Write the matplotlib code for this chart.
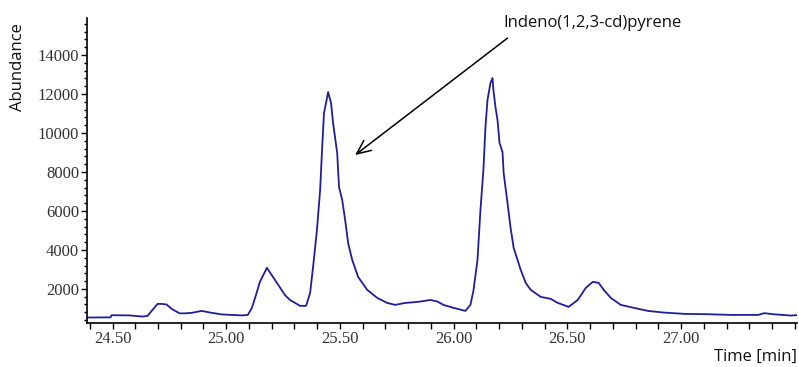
import matplotlib
matplotlib.use('Agg')
import matplotlib.pyplot as plt
from matplotlib.ticker import MultipleLocator, FixedLocator, FormatStrFormatter

# chromatogram trace
time_min = [24.385, 24.491, 24.496, 24.575, 24.632, 24.654, 24.698, 24.716, 24.738, 24.760,
            24.795, 24.817, 24.848, 24.892, 24.937, 24.981, 25.025, 25.069, 25.095, 25.113,
            25.135, 25.148, 25.179, 25.223, 25.258, 25.280, 25.325, 25.351, 25.369, 25.382,
            25.399, 25.413, 25.422, 25.430, 25.444, 25.448, 25.461, 25.470, 25.488, 25.496,
            25.510, 25.523, 25.536, 25.554, 25.580, 25.620, 25.664, 25.708, 25.743, 25.787,
            25.810, 25.854, 25.898, 25.929, 25.955, 26.000, 26.052, 26.074, 26.087, 26.105,
            26.118, 26.131, 26.140, 26.149, 26.162, 26.171, 26.175, 26.184, 26.193, 26.202,
            26.215, 26.220, 26.237, 26.250, 26.264, 26.281, 26.295, 26.317, 26.339, 26.383,
            26.427, 26.458, 26.506, 26.546, 26.581, 26.612, 26.638, 26.660, 26.691, 26.735,
            26.793, 26.855, 26.925, 27.013, 27.119, 27.220, 27.340, 27.366, 27.406, 27.485,
            27.516]
abundance = [530, 540, 650, 640, 580, 615, 1230, 1230, 1200, 975,
             745, 745, 770, 870, 770, 690, 665, 640, 665, 1025,
             1845, 2360, 3080, 2310, 1690, 1435, 1130, 1130, 1795, 3130,
             5025, 7075, 9280, 11025, 11845, 12100, 11540, 10510, 8975, 7230,
             6565, 5540, 4360, 3490, 2615, 1950, 1540, 1280, 1180, 1280,
             1300, 1350, 1435, 1350, 1180, 1025, 870, 1180, 1900, 3490,
             6050, 8100, 10310, 11690, 12565, 12820, 12200, 11335, 10665, 9485,
             9025, 7950, 6410, 5180, 4100, 3490, 2975, 2310, 1950, 1590,
             1490, 1280, 1077, 1435, 2050, 2360, 2310, 1950, 1540, 1180,
             1025, 870, 785, 720, 700, 665, 665, 755, 700, 630,
             665]

x_labelled = [24.5, 25.0, 25.5, 26.0, 26.5, 27.0]

label_text = 'Indeno(1,2,3-cd)pyrene'
arrow_tip = (25.567, 8870)
arrow_tail = (26.237, 14870)
label_pos = (26.220, 15640)

SANS = ['Open Sans', 'DejaVu Sans']
SERIF = ['Liberation Serif', 'DejaVu Serif']

fig = plt.figure(figsize=(7.99, 3.67), dpi=100)
ax = fig.add_axes([0.1095, 0.1199, 0.888, 0.831])

ax.plot(time_min, abundance, color='#1f1f99', linewidth=1.3)

ax.set_xlim(24.39, 27.51)
ax.set_ylim(250, 15900)

for side in ('top', 'right'):
    ax.spines[side].set_visible(False)
for side in ('left', 'bottom'):
    ax.spines[side].set_linewidth(1.2)

ax.xaxis.set_major_locator(FixedLocator(x_labelled))
ax.xaxis.set_minor_locator(MultipleLocator(0.1))
ax.xaxis.set_major_formatter(FormatStrFormatter('%.2f'))
ax.yaxis.set_major_locator(MultipleLocator(2000))
ax.yaxis.set_minor_locator(MultipleLocator(400))

ax.tick_params(axis='x', which='both', length=4, width=1, pad=2, labelsize=12, labelcolor='#333333')
ax.tick_params(axis='y', which='major', length=4, width=1, pad=2, labelsize=12, labelcolor='#333333')
ax.tick_params(axis='y', which='minor', length=2.5, width=1)
for lbl in ax.get_xticklabels() + ax.get_yticklabels():
    lbl.set_family(SERIF)

fig.text(18 / 799, 1 - 67 / 367, 'Abundance', rotation=90, ha='center', va='center',
         fontsize=12, family=SANS, color='#111111')
fig.text(797 / 799, 1 - 357 / 367, 'Time [min]', ha='right', va='center',
         fontsize=12, family=SANS, color='#111111')

ax.annotate('', xy=arrow_tip, xytext=arrow_tail,
            arrowprops=dict(arrowstyle='->,head_length=1.0,head_width=0.45',
                            color='black', linewidth=1.1, shrinkA=0, shrinkB=0))
ax.text(label_pos[0], label_pos[1], label_text, ha='left', va='center',
        fontsize=12, family=SANS, color='#111111')

fig.savefig('out.png', dpi=100)
